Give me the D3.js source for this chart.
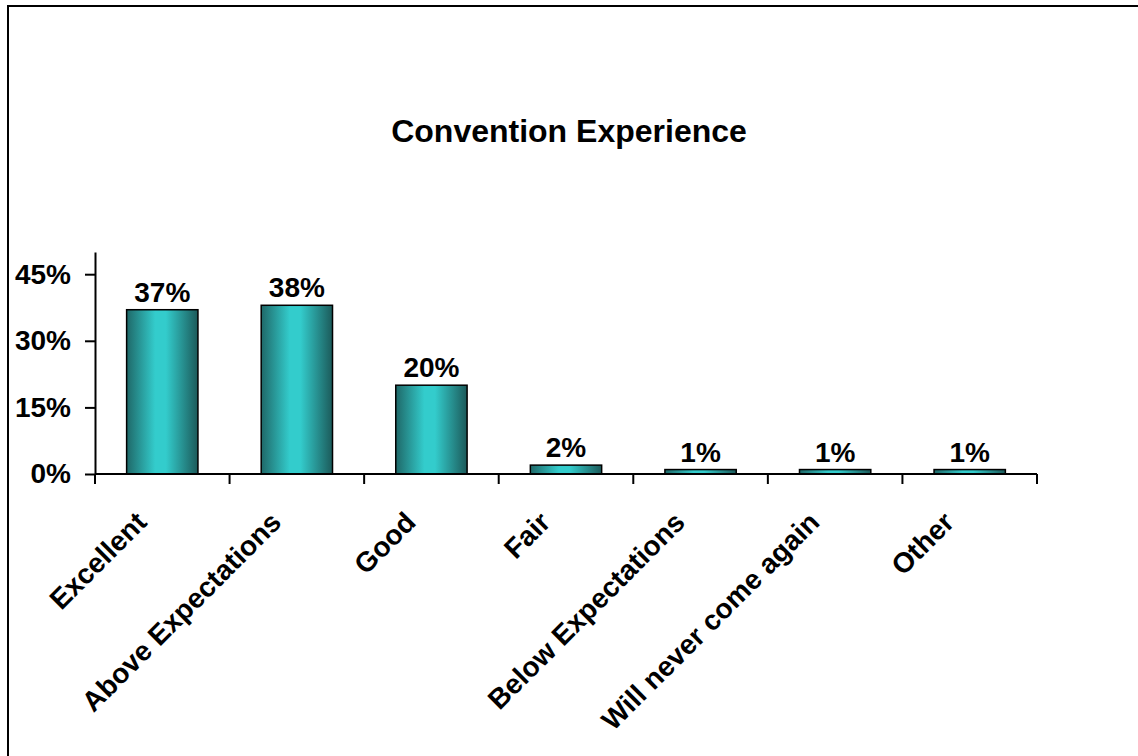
<!DOCTYPE html>
<html>
<head>
<meta charset="utf-8">
<script src="https://cdn.jsdelivr.net/npm/d3@7"></script>
<style>
  html, body { margin: 0; padding: 0; background: #fff; }
  svg text { font-family: Arial, "Liberation Sans", sans-serif; font-weight: bold; fill: #000; }
</style>
</head>
<body>
<div id="chart"></div>
<script>
// chart data
const categories = ['Excellent', 'Above Expectations', 'Good', 'Fair', 'Below Expectations', 'Will never come again', 'Other'];
const values = [0.37, 0.38, 0.20, 0.02, 0.01, 0.01, 0.01];
const yTicks = [0, 0.15, 0.30, 0.45];
const title = 'Convention Experience';

const width = 1138;
const height = 756;

function createChart() {
  const svg = d3.select('#chart')
    .append('svg')
    .attr('width', width)
    .attr('height', height);

  // bar gradient (dark edges, bright middle)
  const grad = svg.append('defs').append('linearGradient')
    .attr('id', 'barGrad')
    .attr('x1', '0%').attr('x2', '100%')
    .attr('y1', '0%').attr('y2', '0%');
  grad.append('stop').attr('offset', '0%').attr('stop-color', '#1f6868');
  grad.append('stop').attr('offset', '40%').attr('stop-color', '#33cccc');
  grad.append('stop').attr('offset', '55%').attr('stop-color', '#33cccc');
  grad.append('stop').attr('offset', '100%').attr('stop-color', '#1c5a5a');

  // chart area border (runs off right/bottom)
  svg.append('rect')
    .attr('x', 8).attr('y', 6)
    .attr('width', width + 20).attr('height', height + 20)
    .attr('fill', 'none')
    .attr('stroke', '#000')
    .attr('stroke-width', 2);

  const plot = { left: 95, right: 1037, top: 252, bottom: 474 };

  const xScale = d3.scaleBand()
    .domain(categories)
    .range([plot.left, plot.right])
    .paddingInner(0.47)
    .paddingOuter(0.235);

  const yScale = d3.scaleLinear()
    .domain([0, 0.5])
    .range([plot.bottom, plot.top]);

  // title
  svg.append('text')
    .attr('x', width / 2)
    .attr('y', 142)
    .attr('text-anchor', 'middle')
    .style('font-size', '32px')
    .text(title);

  // bars
  svg.append('g').selectAll('rect')
    .data(categories)
    .join('rect')
    .attr('x', d => xScale(d))
    .attr('y', (d, i) => yScale(values[i]))
    .attr('width', xScale.bandwidth())
    .attr('height', (d, i) => yScale(0) - yScale(values[i]))
    .attr('fill', 'url(#barGrad)')
    .attr('stroke', '#000')
    .attr('stroke-width', 1.5);

  // value labels
  svg.append('g').selectAll('text')
    .data(categories)
    .join('text')
    .attr('x', d => xScale(d) + xScale.bandwidth() / 2)
    .attr('y', (d, i) => yScale(values[i]) - 8)
    .attr('text-anchor', 'middle')
    .style('font-size', '28px')
    .text((d, i) => d3.format('.0%')(values[i]));

  // y axis
  const yAxis = d3.axisLeft(yScale)
    .tickValues(yTicks)
    .tickFormat(d3.format('.0%'))
    .tickSize(10)
    .tickSizeOuter(0)
    .tickPadding(14);

  const yG = svg.append('g')
    .attr('transform', `translate(${plot.left}, 0)`)
    .call(yAxis);
  yG.select('.domain').attr('stroke', '#000').attr('stroke-width', 2);
  yG.selectAll('.tick line').attr('stroke', '#000').attr('stroke-width', 2);
  yG.selectAll('.tick text')
    .style('font-size', '28px')
    .style('font-family', 'Arial, "Liberation Sans", sans-serif')
    .style('font-weight', 'bold')
    .attr('fill', '#000');

  // x axis: ticks on band boundaries
  const xG = svg.append('g')
    .attr('transform', `translate(0, ${plot.bottom})`);
  xG.append('line')
    .attr('x1', plot.left).attr('x2', plot.right)
    .attr('stroke', '#000').attr('stroke-width', 2);
  const step = xScale.step();
  xG.selectAll('line.tick')
    .data(d3.range(categories.length + 1))
    .join('line')
    .attr('class', 'tick')
    .attr('x1', i => plot.left + i * step)
    .attr('x2', i => plot.left + i * step)
    .attr('y1', 0).attr('y2', 10)
    .attr('stroke', '#000').attr('stroke-width', 2);

  // rotated category labels
  svg.append('g').selectAll('text')
    .data(categories)
    .join('text')
    .attr('transform', d => {
      const cx = xScale(d) + xScale.bandwidth() / 2 - 14;
      return `translate(${cx}, ${plot.bottom + 50}) rotate(-45)`;
    })
    .attr('text-anchor', 'end')
    .style('font-size', '28px')
    .text(d => d);
}

createChart();
</script>
</body>
</html>
